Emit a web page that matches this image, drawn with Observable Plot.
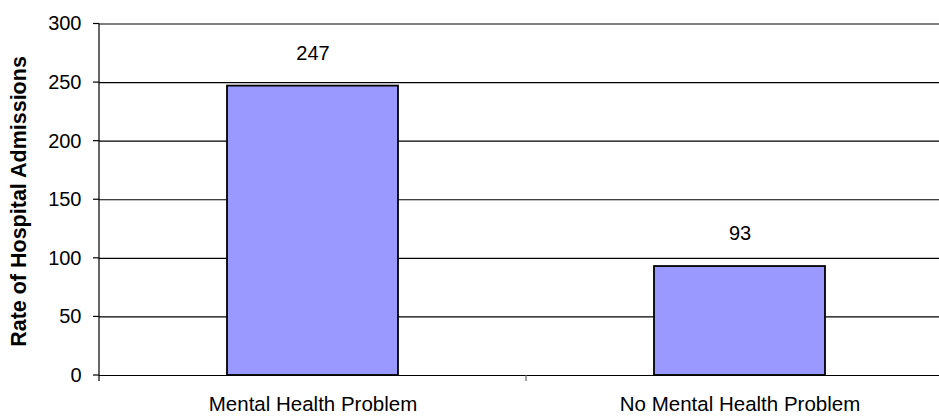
<!DOCTYPE html>
<html><head><meta charset="utf-8">
<script src="https://cdn.jsdelivr.net/npm/d3@7"></script>
<script src="https://cdn.jsdelivr.net/npm/@observablehq/plot@0.6"></script>
<style>
body{margin:0;background:#fff;}
#chart svg{font-family:"Liberation Sans",Arial,sans-serif;overflow:visible;}
</style>
</head><body><div id="chart"></div>
<script>
const categories = ["Mental Health Problem", "No Mental Health Problem"];
const values = [247, 93];
const yTicks = [0, 50, 100, 150, 200, 250, 300];
const yLabel = "Rate of Hospital Admissions";

const data = categories.map((c, i) => ({category: c, value: values[i]}));

function frame(index, scales, vals, dims) {
  const g = d3.create("svg:g");
  const x = scales.x, y = scales.y;
  const r = x.range();
  const n = categories.length;
  const x0 = r[0];
  const y0 = y(0), yTop = y(d3.max(yTicks));
  g.append("line").attr("x1", x0).attr("x2", x0).attr("y1", yTop).attr("y2", y0 + 6)
    .attr("stroke", "black").attr("stroke-width", 1.2);
  for (const t of yTicks) {
    g.append("line").attr("x1", x0 - 6).attr("x2", x0).attr("y1", y(t)).attr("y2", y(t))
      .attr("stroke", "black").attr("stroke-width", 1.2);
  }
  for (let i = 1; i <= n; i++) {
    const bx = r[0] + i * (r[1] - r[0]) / n;
    g.append("line").attr("x1", bx).attr("x2", bx).attr("y1", y0).attr("y2", y0 + 6)
      .attr("stroke", "#666").attr("stroke-width", 1.2);
  }
  return g.node();
}

const chart = Plot.plot({
  width: 939,
  height: 416,
  marginLeft: 99,
  marginRight: 0,
  marginTop: 23,
  marginBottom: 41,
  style: {fontFamily: "Liberation Sans, Arial, sans-serif", background: "white", overflow: "visible"},
  x: {domain: categories, range: [99, 953], paddingInner: 0.6, paddingOuter: 0.3, label: null},
  y: {domain: [0, 300], range: [375, 23.5], label: null},
  marks: [
    Plot.ruleY(yTicks, {stroke: "black", strokeWidth: 1.2}),
    Plot.barY(data, {x: "category", y: "value", fill: "#9999FF", stroke: "black", strokeWidth: 1.8}),
    Plot.text(data, {x: "category", y: "value", text: d => String(d.value), dy: -33, fontSize: 20, fill: "black"}),
    Plot.axisY({ticks: yTicks, tickSize: 0, tickPadding: 18, fontSize: 20, label: null, fill: "black"}),
    Plot.axisX({tickSize: 0, tickPadding: 21, fontSize: 20.5, label: null, fill: "black"}),
    Plot.text([yLabel], {frameAnchor: "left", dx: -80.5, dy: 2, rotate: -90, textAnchor: "middle", text: d => d, fontSize: 21.5, fontWeight: "bold", fill: "black"}),
    frame
  ]
});
document.getElementById("chart").appendChild(chart);
</script>
</body></html>
